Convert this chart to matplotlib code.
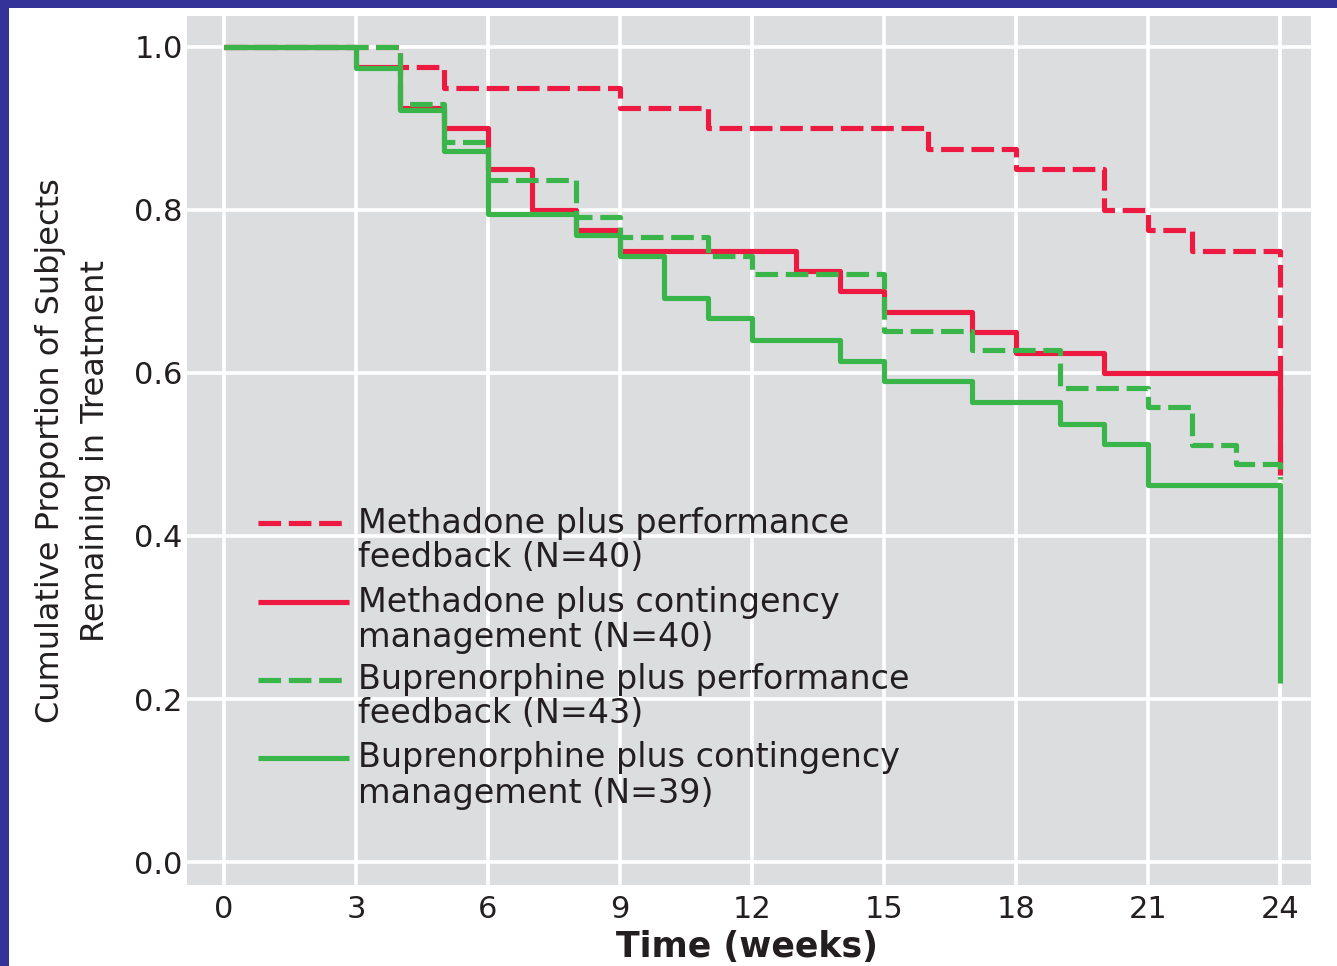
import matplotlib
matplotlib.use('Agg')
import matplotlib.pyplot as plt
from matplotlib.lines import Line2D
from matplotlib.patches import Rectangle

# ---------------- data ----------------
mpf_weeks = [0, 4, 5, 9, 11, 16, 18, 20, 21, 22, 24]
mpf_surv = [1.0, 0.975, 0.95, 0.925, 0.90, 0.875, 0.85, 0.80, 0.775, 0.75, 0.475]

mcm_weeks = [0, 3, 4, 5, 6, 7, 8, 9, 13, 14, 15, 17, 18, 20, 24]
mcm_surv = [1.0, 0.975, 0.925, 0.90, 0.85, 0.80, 0.775, 0.75, 0.725, 0.70, 0.675, 0.65, 0.625, 0.60, 0.475]

bpf_weeks = [0, 4, 5, 6, 8, 9, 11, 12, 15, 17, 19, 21, 22, 23, 24]
bpf_surv = [1.0, 0.930, 0.884, 0.837, 0.791, 0.767, 0.744, 0.721, 0.651, 0.628, 0.581, 0.558, 0.512, 0.488, 0.47]

bcm_weeks = [0, 3, 4, 5, 6, 8, 9, 10, 11, 12, 14, 15, 17, 19, 20, 21, 24]
bcm_surv = [1.0, 0.974, 0.923, 0.872, 0.795, 0.769, 0.744, 0.692, 0.667, 0.641, 0.615, 0.590, 0.564, 0.538, 0.513, 0.462, 0.22]

legend_labels = [
    ["Methadone plus performance", "feedback (N=40)"],
    ["Methadone plus contingency", "management (N=40)"],
    ["Buprenorphine plus performance", "feedback (N=43)"],
    ["Buprenorphine plus contingency", "management (N=39)"],
]
x_ticks = [0, 3, 6, 9, 12, 15, 18, 21, 24]
y_ticks = [0.0, 0.2, 0.4, 0.6, 0.8, 1.0]
y_tick_labels = ["0.0", "0.2", "0.4", "0.6", "0.8", "1.0"]

# ---------------- style ----------------
RED = '#ED1941'
GREEN = '#39B54A'
BG = '#DCDDDF'
TXT = '#231F20'
BLUE = '#333399'
LW = 3.7
DASH = (4.4, 1.5)

W, H = 1337, 966
fig = plt.figure(figsize=(W / 100, H / 100), dpi=100)
fig.patch.set_facecolor('white')

# slide border
fig.add_artist(Rectangle((0, 0), 9 / W, 1, transform=fig.transFigure,
                         facecolor=BLUE, edgecolor='none', zorder=0))
fig.add_artist(Rectangle((0, 1 - 8 / H), 1, 8 / H, transform=fig.transFigure,
                         facecolor=BLUE, edgecolor='none', zorder=0))

L, R, T, B = 187, 1311, 16, 885
ax = fig.add_axes([L / W, 1 - B / H, (R - L) / W, (B - T) / H])
ax.set_facecolor(BG)
ax.set_xlim(-0.84, 24.70)
ax.set_ylim(-0.0282, 1.038)
for s in ax.spines.values():
    s.set_visible(False)

ax.set_xticks(x_ticks)
ax.set_xticklabels([str(t) for t in x_ticks])
ax.set_yticks(y_ticks)
ax.set_yticklabels(y_tick_labels)
ax.tick_params(axis='both', length=0, labelsize=22, labelcolor=TXT)
ax.tick_params(axis='y', pad=3)
ax.tick_params(axis='x', pad=7)
ax.grid(True, color='white', linewidth=2.6)
ax.set_axisbelow(True)

series = [
    (mpf_weeks, mpf_surv, RED, True),
    (mcm_weeks, mcm_surv, RED, False),
    (bpf_weeks, bpf_surv, GREEN, True),
    (bcm_weeks, bcm_surv, GREEN, False),
]
for i, (wk, sv, col, dashed) in enumerate(series):
    ln, = ax.step(wk, sv, where='post', color=col, linewidth=LW,
                  solid_capstyle='butt', dash_capstyle='butt', zorder=3 + i)
    if dashed:
        ln.set_dashes(DASH)

# manual legend (handle aligned with first text line)
handle_y = [523, 602, 680, 758]
text_base = [(533, 567), (612, 647), (689, 723), (767, 803)]
hx0, hx1, tx = 258, 349, 358
for (wk, sv, col, dashed), hy, (b1, b2), lab in zip(series, handle_y, text_base, legend_labels):
    fy = (B - hy) / (B - T)
    hl = Line2D([(hx0 - L) / (R - L), (hx1 - L) / (R - L)], [fy, fy],
                transform=ax.transAxes, color=col, linewidth=LW,
                solid_capstyle='butt', dash_capstyle='butt', zorder=10)
    if dashed:
        hl.set_dashes(DASH)
    ax.add_line(hl)
    for line, bl in zip(lab, (b1, b2)):
        ax.text((tx - L) / (R - L), (B - bl) / (B - T), line, transform=ax.transAxes,
                ha='left', va='baseline', fontsize=24, color=TXT, zorder=10)

ax.set_xlabel('Time (weeks)', fontsize=25, fontweight='bold', color=TXT, va='baseline')
ax.xaxis.set_label_coords((747 - L) / (R - L), (B - 957) / (B - T))

ax.set_ylabel('Cumulative Proportion of Subjects\nRemaining in Treatment', fontsize=23,
              color=TXT, ha='center', va='center', linespacing=1.58)
ax.yaxis.set_label_coords((73 - L) / (R - L), (B - 451) / (B - T))

fig.savefig('out.png', dpi=100, facecolor='white')
